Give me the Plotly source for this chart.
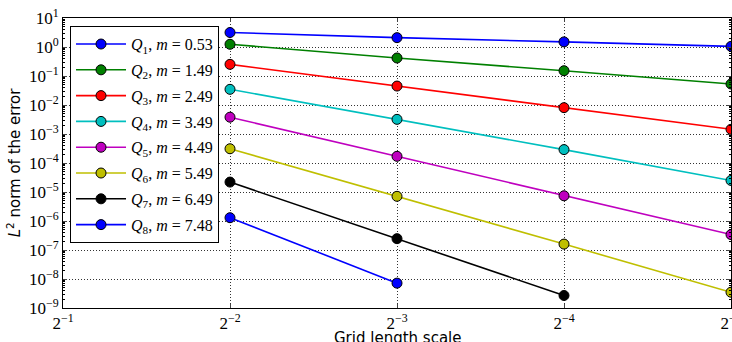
import plotly.graph_objects as go

h_vals = [0.25, 0.125, 0.0625, 0.03125]
x_tick_vals = [0.5, 0.25, 0.125, 0.0625, 0.03125]
x_tick_text = ["2<sup>−1</sup>", "2<sup>−2</sup>", "2<sup>−3</sup>", "2<sup>−4</sup>", "2<sup>−5</sup>"]
y_tick_vals = [1e-9, 1e-8, 1e-7, 1e-6, 1e-5, 1e-4, 1e-3, 1e-2, 1e-1, 1e0, 1e1]
y_tick_text = ["10<sup>−9</sup>", "10<sup>−8</sup>", "10<sup>−7</sup>", "10<sup>−6</sup>", "10<sup>−5</sup>",
               "10<sup>−4</sup>", "10<sup>−3</sup>", "10<sup>−2</sup>", "10<sup>−1</sup>", "10<sup>0</sup>", "10<sup>1</sup>"]

q1 = [3.16, 2.1, 1.5, 1.05]
q2 = [1.24, 0.418, 0.152, 0.053]
q3 = [0.252, 0.045, 0.0081, 0.00145]
q4 = [0.0347, 0.0032, 2.9e-4, 2.5e-5]
q5 = [3.8e-3, 1.7e-4, 7.4e-6, 3.4e-7]
q6 = [3.1e-4, 7.1e-6, 1.6e-7, 3.5e-9]
q7 = [2.2e-5, 2.46e-7, 2.7e-9]
q8 = [1.3e-6, 7.2e-9]

names = ["<i>Q</i><sub>1</sub>, <i>m</i> = 0.53", "<i>Q</i><sub>2</sub>, <i>m</i> = 1.49",
         "<i>Q</i><sub>3</sub>, <i>m</i> = 2.49", "<i>Q</i><sub>4</sub>, <i>m</i> = 3.49",
         "<i>Q</i><sub>5</sub>, <i>m</i> = 4.49", "<i>Q</i><sub>6</sub>, <i>m</i> = 5.49",
         "<i>Q</i><sub>7</sub>, <i>m</i> = 6.49", "<i>Q</i><sub>8</sub>, <i>m</i> = 7.48"]
series = [q1, q2, q3, q4, q5, q6, q7, q8]
colors = ["#0000ff", "#008000", "#ff0000", "#00bfbf", "#bf00bf", "#bfbf00", "#000000", "#0000ff"]

fig = go.Figure()
for i, (name, ys, c) in enumerate(zip(names, series, colors)):
    fig.add_trace(go.Scatter(
        x=h_vals[:len(ys)], y=ys, name=name, mode="lines+markers", legendgroup=f"g{i}",
        line=dict(color=c, width=1.6),
        marker=dict(color=c, size=10, line=dict(color="black", width=1)),
    ))

minor_vals = [m * 10 ** e for e in range(-9, 1) for m in range(2, 10)]

fig.update_layout(
    width=732, height=342,
    margin=dict(l=63, r=1, t=18, b=34),
    plot_bgcolor="white", paper_bgcolor="white",
    font=dict(family="Liberation Serif", size=15, color="black"),
    showlegend=True,
    legend=dict(x=0.0105, y=0.972, xanchor="left", yanchor="top",
                bordercolor="black", borderwidth=1, bgcolor="white",
                font=dict(family="Liberation Serif", size=16), tracegroupgap=2,
                itemwidth=50),
    annotations=[dict(text="Grid length scale", xref="paper", yref="paper", x=0.5, y=0,
                      xanchor="center", yanchor="top", yshift=-19, showarrow=False,
                      font=dict(family="DejaVu Sans", size=15))],
)
grid_dash = "1px,2px"
fig.update_xaxes(
    type="log", range=[-0.30103, -1.50515], tickmode="array",
    tickvals=x_tick_vals, ticktext=x_tick_text, ticks="inside", ticklen=4,
    showline=True, linecolor="black", linewidth=1, mirror="ticks",
    showgrid=True, gridcolor="#333333", griddash=grid_dash, gridwidth=1,
    zeroline=False, automargin=False, ticklabeloverflow="allow",
    tickfont=dict(family="Liberation Serif", size=17),
)
fig.update_yaxes(
    type="log", range=[-9, 1], tickmode="array",
    tickvals=y_tick_vals, ticktext=y_tick_text, ticks="inside", ticklen=4,
    showline=True, linecolor="black", linewidth=1, mirror="ticks",
    showgrid=True, gridcolor="#333333", griddash=grid_dash, gridwidth=1,
    zeroline=False, automargin=False, ticklabeloverflow="allow",
    minor=dict(tickvals=minor_vals, ticks="inside", ticklen=2, showgrid=False, tickcolor="black"),
    title=dict(text="<i>L</i><sup>2</sup> norm of the error", font=dict(family="DejaVu Sans", size=15), standoff=4),
    tickfont=dict(family="Liberation Serif", size=17),
)
fig.write_html(
    "out.html",
    config={"displayModeBar": False},
    post_script="document.documentElement.style.overflow='hidden';"
                "document.body.style.margin='0';document.body.style.overflow='hidden';",
)
